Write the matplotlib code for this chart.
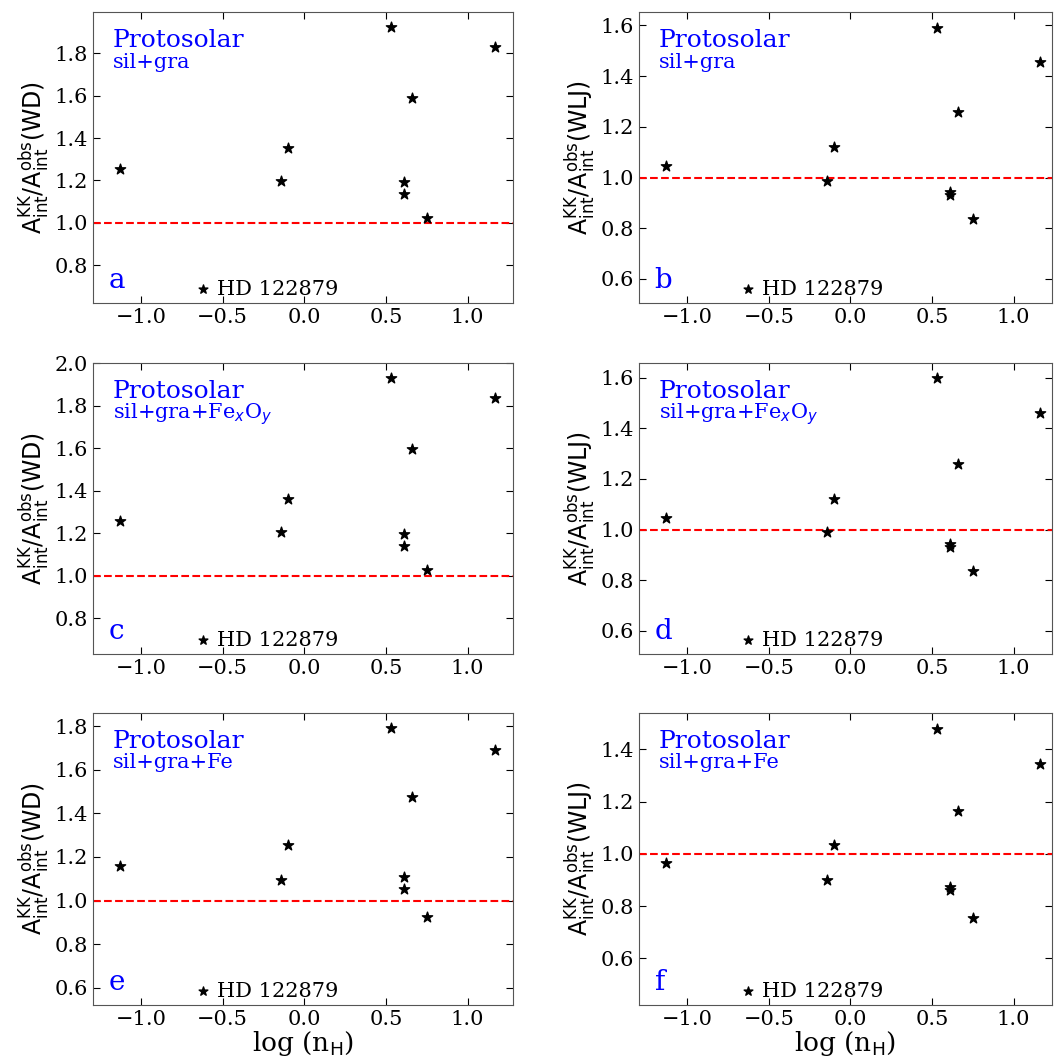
import matplotlib
matplotlib.use('Agg')
import matplotlib.pyplot as plt
import numpy as np

plt.rcParams['font.family'] = 'DejaVu Serif'
plt.rcParams['mathtext.fontset'] = 'dejavusans'

# log(n_H) of the sight lines (same in every panel)
log_nh = [-1.13, -0.145, -0.10, 0.53, 0.61, 0.61, 0.66, 0.75, 1.165]

# A_int^KK / A_int^obs ratios
wd_silgra = [1.252, 1.198, 1.351, 1.923, 1.191, 1.136, 1.590, 1.021, 1.828]
wlj_silgra = [1.044, 0.987, 1.119, 1.592, 0.943, 0.930, 1.257, 0.836, 1.455]
wd_feo = [1.260, 1.205, 1.361, 1.933, 1.197, 1.141, 1.596, 1.028, 1.837]
wlj_feo = [1.047, 0.989, 1.120, 1.597, 0.943, 0.933, 1.259, 0.838, 1.462]
wd_fe = [1.158, 1.092, 1.254, 1.789, 1.108, 1.053, 1.473, 0.924, 1.690]
wlj_fe = [0.963, 0.898, 1.035, 1.479, 0.872, 0.863, 1.164, 0.753, 1.345]

panels = [
    ('a', wd_silgra, 'WD', 'sil+gra', (0.621, 1.994), np.arange(0.8, 1.81, 0.2)),
    ('b', wlj_silgra, 'WLJ', 'sil+gra', (0.505, 1.652), np.arange(0.6, 1.61, 0.2)),
    ('c', wd_feo, 'WD', r'sil+gra+Fe$_x$O$_y$', (0.633, 2.003), np.arange(0.8, 2.01, 0.2)),
    ('d', wlj_feo, 'WLJ', r'sil+gra+Fe$_x$O$_y$', (0.509, 1.659), np.arange(0.6, 1.61, 0.2)),
    ('e', wd_fe, 'WD', 'sil+gra+Fe', (0.521, 1.860), np.arange(0.6, 1.81, 0.2)),
    ('f', wlj_fe, 'WLJ', 'sil+gra+Fe', (0.421, 1.539), np.arange(0.6, 1.41, 0.2)),
]

fig = plt.figure(figsize=(10.54, 10.59), dpi=100)
W, H = 1054., 1059.
cols = [(92.7, 513.0, (-1.296, 1.278)), (639.0, 1052.0, (-1.296, 1.236))]
rows = [(12.3, 303.0), (362.7, 654.0), (713.0, 1005.0)]

for i, (tag, vals, model, mix, ylim, yt) in enumerate(panels):
    x0, x1, xlim = cols[i % 2]
    y0, y1 = rows[i // 2]
    ax = fig.add_axes([x0 / W, 1 - y1 / H, (x1 - x0) / W, (y1 - y0) / H])

    ax.scatter(log_nh, vals, marker='*', s=60, color='black', label='HD 122879', zorder=3)
    ax.axhline(1.0, color='red', ls='--', lw=1.5)

    ax.set_xlim(xlim)
    ax.set_ylim(ylim)
    ax.set_yticks(yt)
    ax.set_xticks([-1.0, -0.5, 0.0, 0.5, 1.0])
    ax.tick_params(direction='in', top=True, right=True, labelsize=15, length=5)
    for sp in ax.spines.values():
        sp.set_color('#555555')

    ax.set_ylabel(r'$\mathrm{A^{KK}_{int}/A^{obs}_{int}(%s)}$' % model, fontsize=17, labelpad=2)
    if i >= 4:
        ax.set_xlabel(r'log (n$_{\rm H}$)', fontsize=19, labelpad=0)

    ax.text(0.048, 0.88, 'Protosolar', color='blue', fontsize=18, transform=ax.transAxes)
    ax.text(0.048, 0.81, mix, color='blue', fontsize=15, transform=ax.transAxes)
    ax.text(0.038, 0.05, tag, color='blue', fontsize=20, transform=ax.transAxes)

    ax.legend(loc='lower left', bbox_to_anchor=(0.194, -0.05), frameon=False,
              fontsize=15, handlelength=1.0, handletextpad=0.15,
              scatterpoints=1, markerscale=0.85)

plt.savefig('out.png', dpi=100)
plt.close()
